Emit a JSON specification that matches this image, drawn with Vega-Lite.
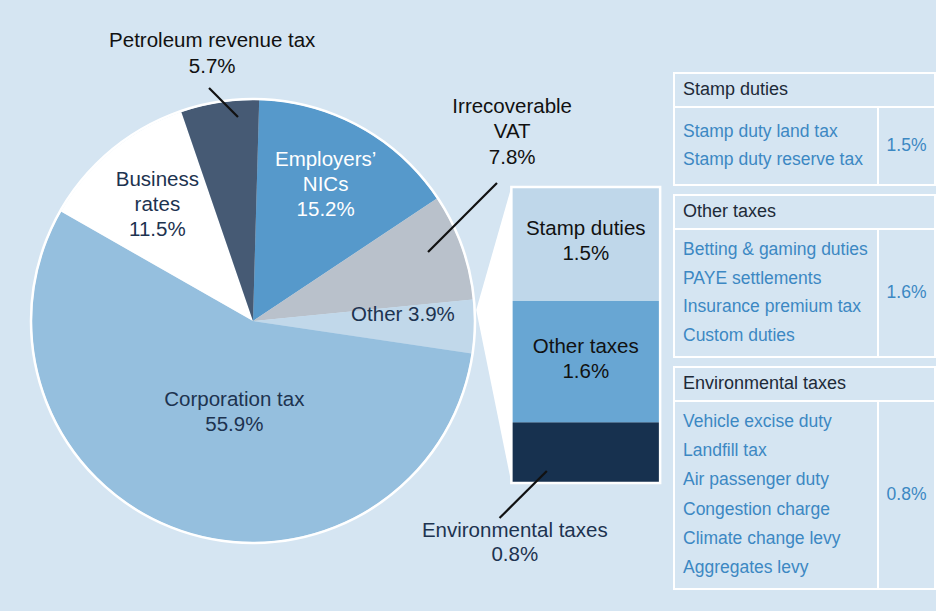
{
  "$schema": "https://vega.github.io/schema/vega-lite/v6.json",
  "background": "#d5e5f2",
  "padding": 0,
  "spacing": 0,
  "bounds": "flush",
  "config": {
    "view": {"stroke": null},
    "font": "Liberation Sans",
    "text": {"font": "Liberation Sans"}
  },
  "datasets": {
    "pie": [
      {"slice": "Employers’ NICs", "key": "nics", "share": 15.2, "order": 1, "label": ["Employers’", "NICs", "15.2%"]},
      {"slice": "Irrecoverable VAT", "key": "vat", "share": 7.8, "order": 2, "label": ["Irrecoverable", "VAT", "7.8%"]},
      {"slice": "Other", "key": "other", "share": 3.9, "order": 3, "label": "Other 3.9%"},
      {"slice": "Corporation tax", "key": "corp", "share": 55.9, "order": 4, "label": ["Corporation tax", "55.9%"]},
      {"slice": "Business rates", "key": "biz", "share": 11.5, "order": 5, "label": ["Business", "rates", "11.5%"]},
      {"slice": "Petroleum revenue tax", "key": "prt", "share": 5.7, "order": 6, "label": ["Petroleum revenue tax", "5.7%"]}
    ],
    "other": [
      {"group": "Environmental taxes", "share": 0.8, "order": 1, "label": ["Environmental taxes", "0.8%"], "pct": "0.8%"},
      {"group": "Other taxes", "share": 1.6, "order": 2, "label": ["Other taxes", "1.6%"], "pct": "1.6%"},
      {"group": "Stamp duties", "share": 1.5, "order": 3, "label": ["Stamp duties", "1.5%"], "pct": "1.5%"}
    ],
    "components": [
      {"group": "Stamp duties", "item": "Stamp duty land tax"},
      {"group": "Stamp duties", "item": "Stamp duty reserve tax"},
      {"group": "Other taxes", "item": "Betting & gaming duties"},
      {"group": "Other taxes", "item": "PAYE settlements"},
      {"group": "Other taxes", "item": "Insurance premium tax"},
      {"group": "Other taxes", "item": "Custom duties"},
      {"group": "Environmental taxes", "item": "Vehicle excise duty"},
      {"group": "Environmental taxes", "item": "Landfill tax"},
      {"group": "Environmental taxes", "item": "Air passenger duty"},
      {"group": "Environmental taxes", "item": "Congestion charge"},
      {"group": "Environmental taxes", "item": "Climate change levy"},
      {"group": "Environmental taxes", "item": "Aggregates levy"}
    ],
    "pieLeaders": [
      {"slice": "Petroleum revenue tax", "x": -0.199, "y": 1.054, "x2": -0.068, "y2": 0.923},
      {"slice": "Irrecoverable VAT", "x": 1.104, "y": 0.624, "x2": 0.792, "y2": 0.312}
    ],
    "barLeaders": [
      {"group": "Environmental taxes", "x": -0.0795, "y": -0.4612, "x2": 0.2384, "y2": 0.1581}
    ],
    "wedge": [
      {"x": -0.2364, "lo": 2.2794, "hi": 2.2794},
      {"x": 0, "lo": 0, "hi": 3.9}
    ]
  },
  "hconcat": [
    {
      "width": 674,
      "height": 611,
      "resolve": {"scale": {"x": "independent", "y": "independent", "color": "independent"}},
      "layer": [
        {
          "layer": [
            {
              "data": {"name": "pie"},
              "encoding": {
                "x": {"datum": 0, "type": "quantitative", "scale": {"domain": [-1.1448, 1.90498], "nice": false, "zero": false}, "axis": null},
                "y": {"datum": 0, "type": "quantitative", "scale": {"domain": [-1.31222, 1.45249], "nice": false, "zero": false}, "axis": null},
                "theta": {"field": "share", "type": "quantitative", "stack": true, "scale": {"domain": [0, 100], "range": [0.028, 6.3112]}},
                "order": {"field": "order", "type": "quantitative"}
              },
              "layer": [
                {
                  "mark": {"type": "arc", "outerRadius": 221},
                  "encoding": {
                    "color": {
                      "field": "slice", "type": "nominal", "legend": null,
                      "scale": {
                        "domain": ["Employers’ NICs", "Irrecoverable VAT", "Other", "Corporation tax", "Business rates", "Petroleum revenue tax"],
                        "range": ["#5699cb", "#b9c1cb", "#c1d8ea", "#95bfde", "#ffffff", "#465a74"]
                      }
                    }
                  }
                },
                {
                  "mark": {"type": "text", "radius": 150, "dy": -30, "fontSize": 20.5, "lineHeight": 25, "align": "center", "baseline": "middle", "color": "#ffffff"},
                  "encoding": {
                    "text": {"condition": {"test": "datum.key === 'nics'", "field": "label", "type": "nominal"}, "value": ""}
                  }
                },
                {
                  "mark": {"type": "text", "radius": 150, "dy": -25, "fontSize": 20.5, "lineHeight": 25, "align": "center", "baseline": "middle", "color": "#1d3350"},
                  "encoding": {
                    "text": {"condition": {"test": "datum.key === 'biz'", "field": "label", "type": "nominal"}, "value": ""}
                  }
                },
                {
                  "mark": {"type": "text", "radius": 150, "dy": -10, "fontSize": 20.5, "align": "center", "baseline": "middle", "color": "#1d3350"},
                  "encoding": {
                    "text": {"condition": {"test": "datum.key === 'other'", "field": "label", "type": "nominal"}, "value": ""}
                  }
                },
                {
                  "mark": {"type": "text", "radius": 97, "dx": 13, "dy": -12.5, "fontSize": 20.5, "lineHeight": 25, "align": "center", "baseline": "middle", "color": "#1d3350"},
                  "encoding": {
                    "text": {"condition": {"test": "datum.key === 'corp'", "field": "label", "type": "nominal"}, "value": ""}
                  }
                },
                {
                  "mark": {"type": "text", "radius": 271, "dy": -12, "fontSize": 20.5, "lineHeight": 26, "align": "center", "baseline": "middle", "color": "#111111"},
                  "encoding": {
                    "text": {"condition": {"test": "datum.key === 'prt'", "field": "label", "type": "nominal"}, "value": ""}
                  }
                },
                {
                  "mark": {"type": "text", "radius": 100, "dx": 165, "dy": -180.5, "fontSize": 20.5, "lineHeight": 25.5, "align": "center", "baseline": "middle", "color": "#111111"},
                  "encoding": {
                    "text": {"condition": {"test": "datum.key === 'vat'", "field": "label", "type": "nominal"}, "value": ""}
                  }
                }
              ]
            },
            {
              "data": {"name": "pie"},
              "transform": [{"aggregate": [{"op": "sum", "field": "share", "as": "total"}]}],
              "mark": {"type": "point", "shape": "circle", "filled": false, "size": 197136, "color": "#ffffff", "strokeWidth": 2.5, "opacity": 1},
              "encoding": {
                "x": {"datum": 0, "type": "quantitative", "scale": {"domain": [-1.1448, 1.90498], "nice": false, "zero": false}, "axis": null},
                "y": {"datum": 0, "type": "quantitative", "scale": {"domain": [-1.31222, 1.45249], "nice": false, "zero": false}, "axis": null}
              }
            },
            {
              "data": {"name": "pieLeaders"},
              "mark": {"type": "rule", "color": "#111111", "strokeWidth": 2.2},
              "encoding": {
                "x": {"field": "x", "type": "quantitative", "scale": {"domain": [-1.1448, 1.90498], "nice": false, "zero": false}, "axis": null},
                "y": {"field": "y", "type": "quantitative", "scale": {"domain": [-1.31222, 1.45249], "nice": false, "zero": false}, "axis": null},
                "x2": {"field": "x2"},
                "y2": {"field": "y2"}
              }
            }
          ]
        },
        {
          "layer": [
            {
              "data": {"name": "wedge"},
              "mark": {"type": "area", "color": "#ffffff", "opacity": 1},
              "encoding": {
                "x": {"field": "x", "type": "quantitative", "scale": {"domain": [-3.404, 1.0596], "nice": false, "zero": false}, "axis": null},
                "y": {"field": "lo", "type": "quantitative", "stack": null, "scale": {"domain": [-1.6865, 6.3639], "nice": false, "zero": false}, "axis": null},
                "y2": {"field": "hi"}
              }
            },
            {
              "data": {"name": "other"},
              "layer": [
                {
                  "mark": {"type": "bar", "orient": "vertical"},
                  "encoding": {
                    "x": {"datum": 0, "type": "quantitative", "scale": {"domain": [-3.404, 1.0596], "nice": false, "zero": false}, "axis": null},
                    "x2": {"datum": 1},
                    "y": {"field": "share", "type": "quantitative", "stack": "zero", "scale": {"domain": [-1.6865, 6.3639], "nice": false, "zero": false}, "axis": null},
                    "order": {"field": "order", "type": "quantitative"},
                    "color": {
                      "field": "group", "type": "nominal", "legend": null,
                      "scale": {"domain": ["Stamp duties", "Other taxes", "Environmental taxes"], "range": ["#bfd7ea", "#68a6d3", "#17314f"]}
                    }
                  }
                },
                {
                  "mark": {"type": "bar", "orient": "vertical", "fillOpacity": 0, "stroke": "#ffffff", "strokeWidth": 2.5},
                  "encoding": {
                    "x": {"datum": 0, "type": "quantitative", "scale": {"domain": [-3.404, 1.0596], "nice": false, "zero": false}, "axis": null},
                    "x2": {"datum": 1},
                    "y": {"aggregate": "sum", "field": "share", "type": "quantitative", "stack": null, "scale": {"domain": [-1.6865, 6.3639], "nice": false, "zero": false}, "axis": null},
                    "y2": {"datum": 0}
                  }
                },
                {
                  "mark": {"type": "text", "fontSize": 20.5, "lineHeight": 25, "align": "center", "baseline": "middle", "color": "#111111", "dy": -15},
                  "encoding": {
                    "x": {"datum": 0.5, "type": "quantitative", "scale": {"domain": [-3.404, 1.0596], "nice": false, "zero": false}, "axis": null},
                    "y": {"field": "share", "type": "quantitative", "stack": "zero", "bandPosition": 0.5, "scale": {"domain": [-1.6865, 6.3639], "nice": false, "zero": false}, "axis": null},
                    "order": {"field": "order", "type": "quantitative"},
                    "text": {"condition": {"test": "datum.group !== 'Environmental taxes'", "field": "label", "type": "nominal"}, "value": ""}
                  }
                },
                {
                  "mark": {"type": "text", "fontSize": 20.5, "lineHeight": 24.5, "align": "center", "baseline": "middle", "color": "#1d3350", "dx": -71, "dy": 48},
                  "encoding": {
                    "x": {"datum": 0.5, "type": "quantitative", "scale": {"domain": [-3.404, 1.0596], "nice": false, "zero": false}, "axis": null},
                    "y": {"field": "share", "type": "quantitative", "stack": "zero", "bandPosition": 0, "scale": {"domain": [-1.6865, 6.3639], "nice": false, "zero": false}, "axis": null},
                    "order": {"field": "order", "type": "quantitative"},
                    "text": {"condition": {"test": "datum.group === 'Environmental taxes'", "field": "label", "type": "nominal"}, "value": ""}
                  }
                }
              ]
            },
            {
              "data": {"name": "barLeaders"},
              "mark": {"type": "rule", "color": "#111111", "strokeWidth": 2.2},
              "encoding": {
                "x": {"field": "x", "type": "quantitative", "scale": {"domain": [-3.404, 1.0596], "nice": false, "zero": false}, "axis": null},
                "y": {"field": "y", "type": "quantitative", "scale": {"domain": [-1.6865, 6.3639], "nice": false, "zero": false}, "axis": null},
                "x2": {"field": "x2"},
                "y2": {"field": "y2"}
              }
            }
          ]
        }
      ]
    },
    {
      "spacing": 0,
      "bounds": "flush",
      "vconcat": [
        {
          "width": 261, "height": 73,
          "data": {"values": [{}]},
          "mark": {"type": "point", "opacity": 0}
        },
        {
          "width": 261, "height": 34,
          "view": {"stroke": "#ffffff", "strokeWidth": 2},
          "data": {"name": "other"},
          "transform": [{"filter": "datum.group === 'Stamp duties'"}],
          "mark": {"type": "text", "align": "left", "baseline": "middle", "dx": 9, "fontSize": 18, "color": "#1d2a38"},
          "encoding": {
            "x": {"datum": 0, "type": "quantitative", "scale": {"domain": [0, 1]}, "axis": null},
            "text": {"field": "group", "type": "nominal"}
          }
        },
        {
          "width": 261, "height": 78,
          "view": {"stroke": "#ffffff", "strokeWidth": 2},
          "layer": [
            {
              "data": {"name": "components"},
              "transform": [{"filter": "datum.group === 'Stamp duties'"}],
              "mark": {"type": "text", "align": "left", "baseline": "middle", "dx": 9, "fontSize": 17.5, "color": "#3c88c3"},
              "encoding": {
                "x": {"datum": 0, "type": "quantitative", "scale": {"domain": [0, 1]}, "axis": null},
                "y": {"field": "item", "type": "nominal", "sort": null, "scale": {"type": "point", "padding": 0.845}, "axis": null},
                "text": {"field": "item", "type": "nominal"}
              }
            },
            {
              "data": {"name": "other"},
              "transform": [{"filter": "datum.group === 'Stamp duties'"}],
              "layer": [
                {
                  "mark": {"type": "rule", "color": "#ffffff", "strokeWidth": 2},
                  "encoding": {"x": {"datum": 0.7816, "type": "quantitative", "scale": {"domain": [0, 1]}, "axis": null}}
                },
                {
                  "mark": {"type": "text", "align": "center", "baseline": "middle", "fontSize": 17.5, "color": "#3c88c3"},
                  "encoding": {
                    "x": {"datum": 0.8908, "type": "quantitative", "scale": {"domain": [0, 1]}, "axis": null},
                    "text": {"field": "pct", "type": "nominal"}
                  }
                }
              ]
            }
          ]
        },
        {
          "width": 261, "height": 10,
          "data": {"values": [{}]},
          "mark": {"type": "point", "opacity": 0}
        },
        {
          "width": 261, "height": 34,
          "view": {"stroke": "#ffffff", "strokeWidth": 2},
          "data": {"name": "other"},
          "transform": [{"filter": "datum.group === 'Other taxes'"}],
          "mark": {"type": "text", "align": "left", "baseline": "middle", "dx": 9, "fontSize": 18, "color": "#1d2a38"},
          "encoding": {
            "x": {"datum": 0, "type": "quantitative", "scale": {"domain": [0, 1]}, "axis": null},
            "text": {"field": "group", "type": "nominal"}
          }
        },
        {
          "width": 261, "height": 128,
          "view": {"stroke": "#ffffff", "strokeWidth": 2},
          "layer": [
            {
              "data": {"name": "components"},
              "transform": [{"filter": "datum.group === 'Other taxes'"}],
              "mark": {"type": "text", "align": "left", "baseline": "middle", "dx": 9, "fontSize": 17.5, "color": "#3c88c3"},
              "encoding": {
                "x": {"datum": 0, "type": "quantitative", "scale": {"domain": [0, 1]}, "axis": null},
                "y": {"field": "item", "type": "nominal", "sort": null, "scale": {"type": "point", "padding": 0.707}, "axis": null},
                "text": {"field": "item", "type": "nominal"}
              }
            },
            {
              "data": {"name": "other"},
              "transform": [{"filter": "datum.group === 'Other taxes'"}],
              "layer": [
                {
                  "mark": {"type": "rule", "color": "#ffffff", "strokeWidth": 2},
                  "encoding": {"x": {"datum": 0.7816, "type": "quantitative", "scale": {"domain": [0, 1]}, "axis": null}}
                },
                {
                  "mark": {"type": "text", "align": "center", "baseline": "middle", "fontSize": 17.5, "color": "#3c88c3"},
                  "encoding": {
                    "x": {"datum": 0.8908, "type": "quantitative", "scale": {"domain": [0, 1]}, "axis": null},
                    "text": {"field": "pct", "type": "nominal"}
                  }
                }
              ]
            }
          ]
        },
        {
          "width": 261, "height": 10,
          "data": {"values": [{}]},
          "mark": {"type": "point", "opacity": 0}
        },
        {
          "width": 261, "height": 34,
          "view": {"stroke": "#ffffff", "strokeWidth": 2},
          "data": {"name": "other"},
          "transform": [{"filter": "datum.group === 'Environmental taxes'"}],
          "mark": {"type": "text", "align": "left", "baseline": "middle", "dx": 9, "fontSize": 18, "color": "#1d2a38"},
          "encoding": {
            "x": {"datum": 0, "type": "quantitative", "scale": {"domain": [0, 1]}, "axis": null},
            "text": {"field": "group", "type": "nominal"}
          }
        },
        {
          "width": 261, "height": 188,
          "view": {"stroke": "#ffffff", "strokeWidth": 2},
          "layer": [
            {
              "data": {"name": "components"},
              "transform": [{"filter": "datum.group === 'Environmental taxes'"}],
              "mark": {"type": "text", "align": "left", "baseline": "middle", "dx": 9, "fontSize": 17.5, "color": "#3c88c3"},
              "encoding": {
                "x": {"datum": 0, "type": "quantitative", "scale": {"domain": [0, 1]}, "axis": null},
                "y": {"field": "item", "type": "nominal", "sort": null, "scale": {"type": "point", "padding": 0.741}, "axis": null},
                "text": {"field": "item", "type": "nominal"}
              }
            },
            {
              "data": {"name": "other"},
              "transform": [{"filter": "datum.group === 'Environmental taxes'"}],
              "layer": [
                {
                  "mark": {"type": "rule", "color": "#ffffff", "strokeWidth": 2},
                  "encoding": {"x": {"datum": 0.7816, "type": "quantitative", "scale": {"domain": [0, 1]}, "axis": null}}
                },
                {
                  "mark": {"type": "text", "align": "center", "baseline": "middle", "fontSize": 17.5, "color": "#3c88c3"},
                  "encoding": {
                    "x": {"datum": 0.8908, "type": "quantitative", "scale": {"domain": [0, 1]}, "axis": null},
                    "text": {"field": "pct", "type": "nominal"}
                  }
                }
              ]
            }
          ]
        }
      ]
    }
  ]
}
